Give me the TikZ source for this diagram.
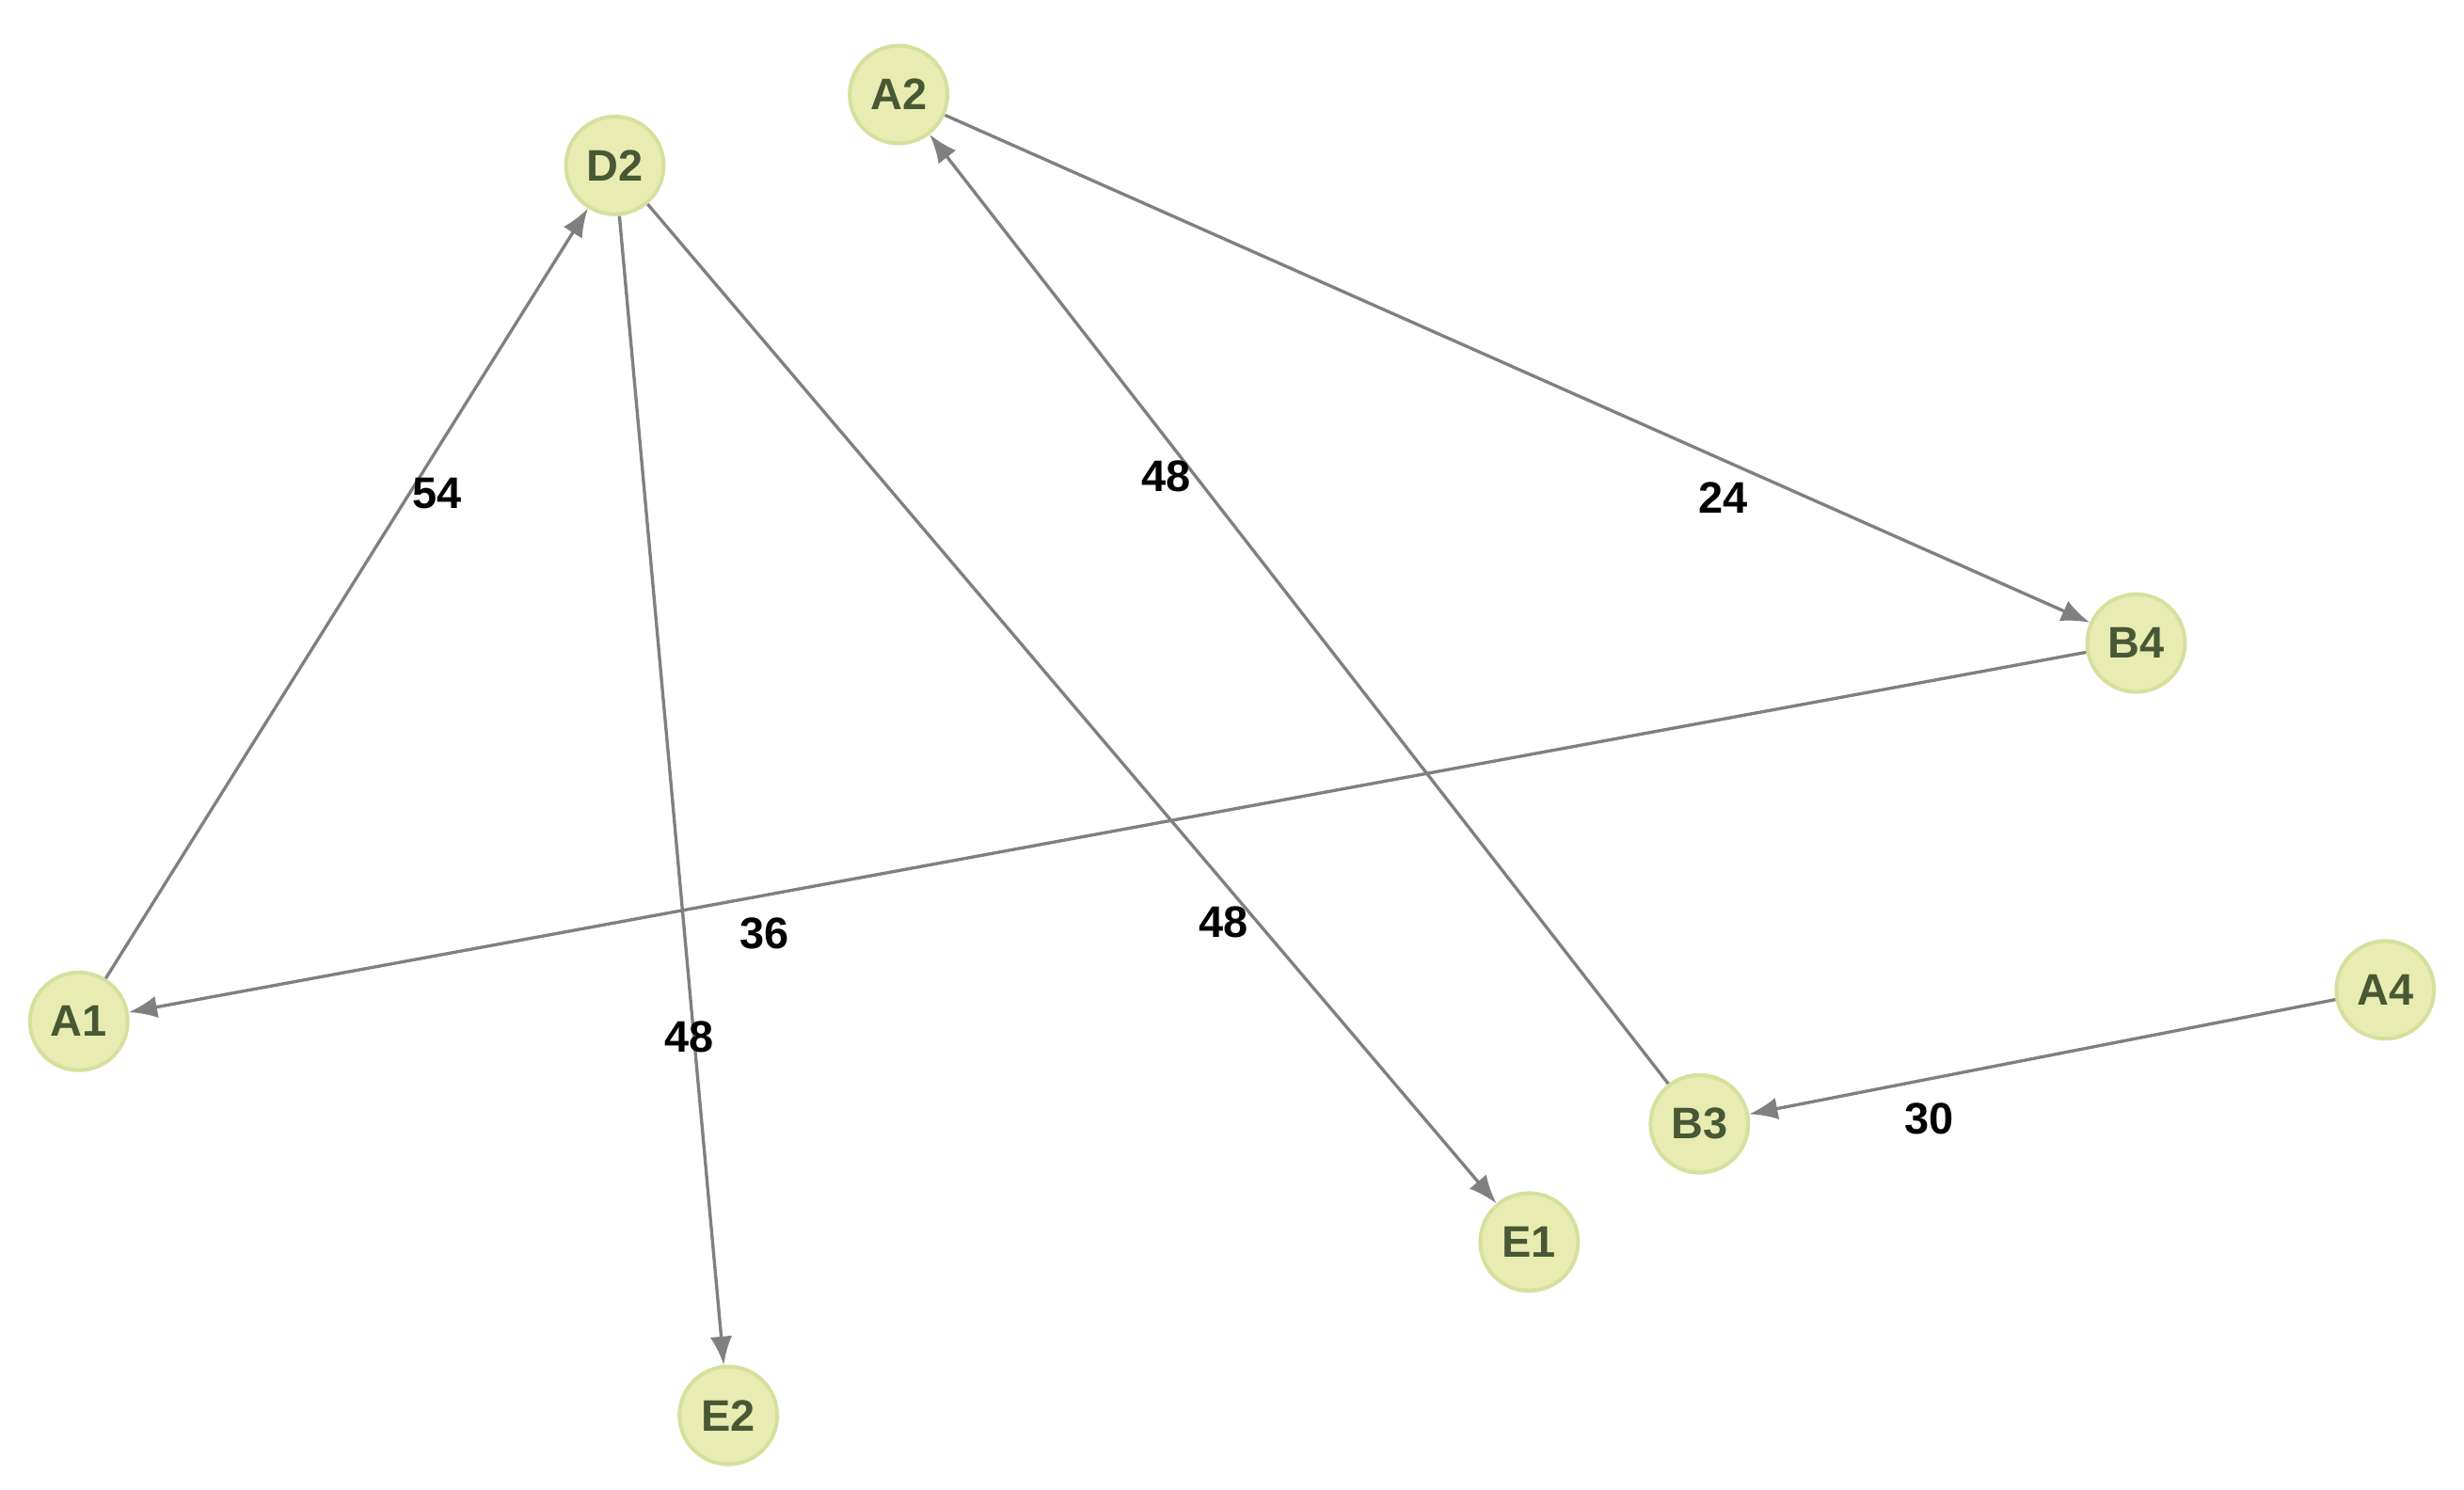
\documentclass[tikz,border=0pt]{standalone}
\usepackage{fontspec}
\setmainfont{Liberation Sans}
\usetikzlibrary{arrows.meta}
\definecolor{nfill}{RGB}{232,236,178}
\definecolor{nline}{RGB}{214,224,158}
\definecolor{ntext}{RGB}{72,88,52}
\definecolor{eline}{RGB}{128,128,128}
\begin{document}
\begin{tikzpicture}[x=0.5pt,y=-0.5pt,
  vtx/.style={circle,fill=nfill,draw=nline,line width=1.2pt,minimum size=31pt,inner sep=0pt,font=\fontsize{14}{14}\selectfont\bfseries,text=ntext},
  edge/.style={draw=eline,line width=1pt,-{Latex[length=9pt,width=7pt]}},
  lbl/.style={font=\fontsize{14}{14}\selectfont\bfseries,text=black}]
\useasboundingbox (0,0) rectangle (1563,945);
\node[vtx] (A2) at (570,60) {A2};
\node[vtx] (D2) at (390,105) {D2};
\node[vtx] (B4) at (1355,408) {B4};
\node[vtx] (A1) at (50,648) {A1};
\node[vtx] (A4) at (1513,628) {A4};
\node[vtx] (B3) at (1078,713) {B3};
\node[vtx] (E1) at (970,788) {E1};
\node[vtx] (E2) at (462,898) {E2};
\draw[edge] (A1) -- (D2);
\draw[edge] (D2) -- (E2);
\draw[edge] (D2) -- (E1);
\draw[edge] (B3) -- (A2);
\draw[edge] (A2) -- (B4);
\draw[edge] (B4) -- (A1);
\draw[edge] (A4) -- (B3);
\node[lbl] (l1) at (277,313) {54};
\node[lbl] (l2) at (437,658) {48};
\node[lbl] (l3) at (776,585) {48};
\node[lbl] (l4) at (740,302) {48};
\node[lbl] (l5) at (1093,316) {24};
\node[lbl] (l6) at (485,592) {36};
\node[lbl] (l7) at (1224,710) {30};
\end{tikzpicture}
\end{document}
